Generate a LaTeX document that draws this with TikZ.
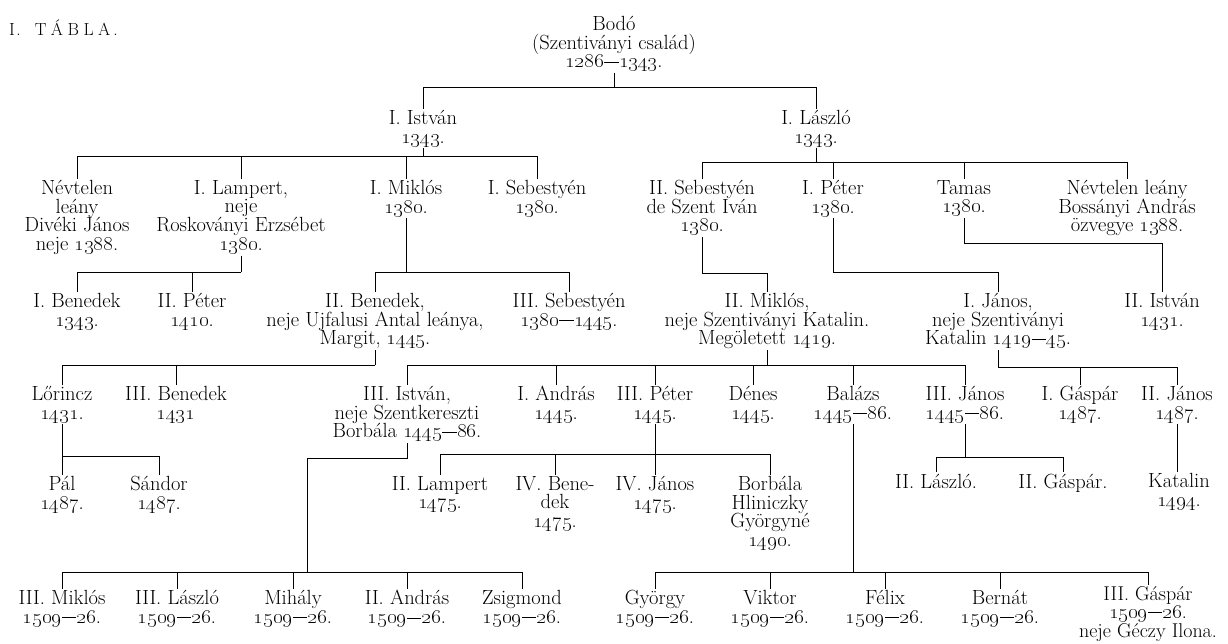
\documentclass[tikz,border=0pt]{standalone}
\newcommand\yr[1]{\oldstylenums{#1}}
\newcommand\ds{\kern0.5pt\rule[0.24em]{0.7em}{0.045em}\kern0.5pt}
\tikzset{
	pers/.style={anchor=north, align=center, inner sep=1pt, font=\fontsize{20.5}{18.7}\selectfont, execute at begin node={\rule{0pt}{15pt}}},
	kin/.style={draw, line width=0.8pt}
}
\begin{document}
\begin{tikzpicture}[x=1pt,y=-1pt]
\useasboundingbox (0,0) rectangle (1228,644);
\node[anchor=west, inner sep=0pt, font=\fontsize{17.5}{19}\selectfont] (title) at (9,28) {I\kern1.5pt.\kern14pt T\kern4.5pt Á\kern4.5pt B\kern4.5pt L\kern4.5pt A\kern3pt.};

% first generations
\node[pers] (bodo) at (614,15) {Bodó\\(Szentiványi család)\\\yr{1286}\ds\yr{1343}.};
\node[pers] (istvan1) at (423,109) {I. István\\\yr{1343}.};
\node[pers] (laszlo1) at (816,109) {I. László\\\yr{1343}.};

\node[pers] (nevtelen1) at (77,179) {Névtelen\\leány\\Divéki János\\neje \yr{1388}.};
\node[pers] (lampert1) at (241,179) {I. Lampert,\\neje\\Roskoványi Erzsébet\\\yr{1380}.};
\node[pers] (miklos1) at (406,179) {I. Miklós\\\yr{1380}.};
\node[pers] (sebestyen1) at (537,179) {I. Sebestyén\\\yr{1380}.};
\node[pers] (sebestyen2) at (702,179) {II. Sebestyén\\de Szent Iván\\\yr{1380}.};
\node[pers] (peter1) at (833,179) {I. Péter\\\yr{1380}.};
\node[pers] (tamas) at (964,179) {Tamas\\\yr{1380}.};
\node[pers] (nevtelen2) at (1127,179) {Névtelen leány\\Bossányi András\\özvegye \yr{1388}.};

\node[pers] (benedek1) at (77,292) {I. Benedek\\\yr{1343}.};
\node[pers] (peter2) at (192,292) {II. Péter\\\yr{1410}.};
\node[pers] (benedek2) at (375,292) {II. Benedek,\\neje Ujfalusi Antal leánya,\\Margit, \yr{1445}.};
\node[pers] (sebestyen3) at (569,292) {III. Sebestyén\\\yr{1380}\ds\yr{1445}.};
\node[pers] (miklos2) at (767,292) {II. Miklós,\\neje Szentiványi Katalin.\\Megöletett \yr{1419}.};
\node[pers] (janos1) at (998,292) {I. János,\\neje Szentiványi\\Katalin \yr{1419}\ds\yr{45}.};
\node[pers] (istvan2) at (1162,292) {II. István\\\yr{1431}.};

% later generations
\node[pers] (lorincz) at (62,385) {Lőrincz\\\yr{1431}.};
\node[pers] (benedek3) at (176,385) {III. Benedek\\\yr{1431}};
\node[pers] (istvan3) at (407,385) {III. István,\\neje Szentkereszti\\Borbála \yr{1445}\ds\yr{86}.};
\node[pers] (andras1) at (556,385) {I. András\\\yr{1445}.};
\node[pers] (peter3) at (655,385) {III. Péter\\\yr{1445}.};
\node[pers] (denes) at (753,385) {Dénes\\\yr{1445}.};
\node[pers] (balazs) at (853,385) {Balázs\\\yr{1445}\ds\yr{86}.};
\node[pers] (janos3) at (965,385) {III. János\\\yr{1445}\ds\yr{86}.};
\node[pers] (gaspar1) at (1080,385) {I. Gáspár\\\yr{1487}.};
\node[pers] (janos2) at (1177,385) {II. János\\\yr{1487}.};

\node[pers] (pal) at (62,475) {Pál\\\yr{1487}.};
\node[pers] (sandor) at (159,475) {Sándor\\\yr{1487}.};
\node[pers] (lampert2) at (440,475) {II. Lampert\\\yr{1475}.};
\node[pers] (benedek4) at (555,475) {IV. Bene-\\dek\\\yr{1475}.};
\node[pers] (janos4) at (655,475) {IV. János\\\yr{1475}.};
\node[pers] (borbala) at (770,475) {Borbála\\Hliniczky\\Györgyné\\\yr{1490}.};
\node[pers] (laszlo2) at (936,472) {II. László.};
\node[pers] (gaspar2) at (1063,472) {II. Gáspár.};
\node[pers] (katalin) at (1179,472) {Katalin\\\yr{1494}.};

\node[pers] (miklos3) at (62,589) {III. Miklós\\\yr{1509}\ds\yr{26}.};
\node[pers] (laszlo3) at (177,589) {III. László\\\yr{1509}\ds\yr{26}.};
\node[pers] (mihaly) at (293,589) {Mihály\\\yr{1509}\ds\yr{26}.};
\node[pers] (andras2) at (407,589) {II. András\\\yr{1509}\ds\yr{26}.};
\node[pers] (zsigmond) at (522,589) {Zsigmond\\\yr{1509}\ds\yr{26}.};
\node[pers] (gyorgy) at (655,589) {György\\\yr{1509}\ds\yr{26}.};
\node[pers] (viktor) at (770,589) {Viktor\\\yr{1509}\ds\yr{26}.};
\node[pers] (felix) at (885,589) {Félix\\\yr{1509}\ds\yr{26}.};
\node[pers] (bernat) at (1000,589) {Bernát\\\yr{1509}\ds\yr{26}.};
\node[pers, font=\fontsize{20}{18}\selectfont] (gaspar3) at (1148,585) {III. Gáspár\\\yr{1509}\ds\yr{26}.\\neje Géczy Ilona.};

% family lines
\draw[kin] (bodo.south) -- (bodo.south |- 0,87);
\foreach \c in {istvan1,laszlo1}
	\draw[kin] (bodo.south |- 0,87) -| (\c.north);

\draw[kin] (istvan1.south) -- (istvan1.south |- 0,156);
\foreach \c in {nevtelen1,lampert1,miklos1,sebestyen1}
	\draw[kin] (istvan1.south |- 0,156) -| (\c.north);

\draw[kin] (laszlo1.south) -- (laszlo1.south |- 0,162);
\foreach \c in {sebestyen2,peter1,tamas,nevtelen2}
	\draw[kin] (laszlo1.south |- 0,162) -| (\c.north);

\draw[kin] (lampert1.south) -- (lampert1.south |- 0,272);
\foreach \c in {benedek1,peter2}
	\draw[kin] (lampert1.south |- 0,272) -| (\c.north);

\draw[kin] (miklos1.south) -- (miklos1.south |- 0,272);
\foreach \c in {benedek2,sebestyen3}
	\draw[kin] (miklos1.south |- 0,272) -| (\c.north);

\draw[kin] (sebestyen2.south) |- (miklos2.north |- 0,273) -- (miklos2.north);
\draw[kin] (peter1.south) |- (janos1.north |- 0,272) -- (janos1.north);
\draw[kin] (tamas.south) |- (istvan2.north |- 0,243) -- (istvan2.north);

\draw[kin] (benedek2.south) -- (benedek2.south |- 0,365);
\foreach \c in {lorincz,benedek3}
	\draw[kin] (benedek2.south |- 0,365) -| (\c.north);

\draw[kin] (miklos2.south) -- (miklos2.south |- 0,365);
\foreach \c in {istvan3,andras1,peter3,denes,balazs,janos3}
	\draw[kin] (miklos2.south |- 0,365) -| (\c.north);

\draw[kin] (janos1.south) -- (janos1.south |- 0,367);
\foreach \c in {gaspar1,janos2}
	\draw[kin] (janos1.south |- 0,367) -| (\c.north);

\draw[kin] (lorincz.south) -- (lorincz.south |- 0,456);
\foreach \c in {pal,sandor}
	\draw[kin] (lorincz.south |- 0,456) -| (\c.north);

\draw[kin] (peter3.south) -- (peter3.south |- 0,454);
\foreach \c in {lampert2,benedek4,janos4,borbala}
	\draw[kin] (peter3.south |- 0,454) -| (\c.north);

\draw[kin] (janos3.south) -- (janos3.south |- 0,457);
\foreach \c in {laszlo2,gaspar2}
	\draw[kin] (janos3.south |- 0,457) -| (\c.north);

\draw[kin] (janos2.south) -- (janos2.south |- katalin.north);

\coordinate (istvanfoot) at (307,572);
\draw[kin] (istvan3.south) |- (istvanfoot |- 0,458) -- (istvanfoot);
\foreach \c in {miklos3,laszlo3,mihaly,andras2,zsigmond}
	\draw[kin] (istvanfoot) -| (\c.north);

\draw[kin] (balazs.south) -- (balazs.south |- 0,572);
\foreach \c in {gyorgy,viktor,felix,bernat,gaspar3}
	\draw[kin] (balazs.south |- 0,572) -| (\c.north);
\end{tikzpicture}
\end{document}
